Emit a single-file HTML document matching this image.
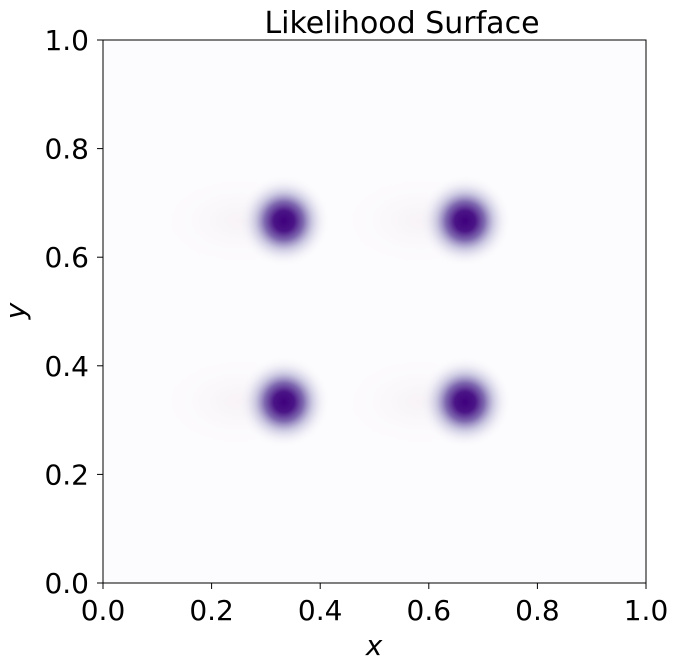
<!DOCTYPE html>
<html><head><meta charset="utf-8"><style>
body{margin:0;background:#fff;}
svg text{font-family:"DejaVu Sans","Liberation Sans",sans-serif;fill:#000;}
</style></head><body>
<svg id="chart" width="677" height="667">
<defs>
<radialGradient id="blob">
<stop offset="0" stop-color="#3f007d" stop-opacity="1"/>
<stop offset="0.22" stop-color="#4a1486" stop-opacity="1"/>
<stop offset="0.42" stop-color="#6a51a3" stop-opacity="0.85"/>
<stop offset="0.62" stop-color="#9e9ac8" stop-opacity="0.5"/>
<stop offset="0.82" stop-color="#dadaeb" stop-opacity="0.25"/>
<stop offset="1" stop-color="#fcfbfd" stop-opacity="0"/>
</radialGradient>
<radialGradient id="tail">
<stop offset="0" stop-color="#f2eaf0" stop-opacity="0.5"/>
<stop offset="1" stop-color="#fcfbfd" stop-opacity="0"/>
</radialGradient>
</defs>
<text x="402" y="33" font-size="30" text-anchor="middle">Likelihood Surface</text>
<rect x="103" y="40" width="543" height="543" fill="#fcfbfd"/>
<g id="marks"></g>
<rect x="103" y="40" width="543" height="543" fill="none" stroke="#000" stroke-width="1"/>
<g id="axes"></g>
<text x="374" y="655" font-size="28" font-style="italic" text-anchor="middle">x</text>
<text x="25" y="311" font-size="28" font-style="italic" text-anchor="middle" transform="rotate(-90 25 311)">y</text>
</svg>
<script>
const peakX=[1/3,1/3,2/3,2/3];
const peakY=[1/3,2/3,1/3,2/3];
const ticks=[0,0.2,0.4,0.6,0.8,1.0];
const tickLabels=["0.0","0.2","0.4","0.6","0.8","1.0"];
const L=103,T=40,W=543,H=543;
const sx=v=>L+v*W, sy=v=>T+H-v*H;
const NS="http://www.w3.org/2000/svg";
const marks=document.getElementById('marks');
for(let i=0;i<peakX.length;i++){
  const t=document.createElementNS(NS,'ellipse');
  t.setAttribute('cx',sx(peakX[i])-45);t.setAttribute('cy',sy(peakY[i]));
  t.setAttribute('rx',85);t.setAttribute('ry',50);t.setAttribute('fill','url(#tail)');
  
  
  marks.appendChild(t);
  const c=document.createElementNS(NS,'circle');
  c.setAttribute('cx',sx(peakX[i]));c.setAttribute('cy',sy(peakY[i]));
  c.setAttribute('r',46);c.setAttribute('fill','url(#blob)');
  
  
  marks.appendChild(c);
}
const axes=document.getElementById('axes');
ticks.forEach((v,i)=>{
  const x=sx(v),y=sy(v);
  let l=document.createElementNS(NS,'line');
  l.setAttribute('x1',x);l.setAttribute('x2',x);l.setAttribute('y1',583);l.setAttribute('y2',589);l.setAttribute('stroke','#000');
  
  
  axes.appendChild(l);
  let t=document.createElementNS(NS,'text');
  t.setAttribute('x',x);t.setAttribute('y',620);t.setAttribute('font-size','28');t.setAttribute('text-anchor','middle');
  t.textContent=tickLabels[i];
  
  
  axes.appendChild(t);
  l=document.createElementNS(NS,'line');
  l.setAttribute('x1',97);l.setAttribute('x2',103);l.setAttribute('y1',y);l.setAttribute('y2',y);l.setAttribute('stroke','#000');
  
  
  axes.appendChild(l);
  t=document.createElementNS(NS,'text');
  t.setAttribute('x',89);t.setAttribute('y',y+10);t.setAttribute('font-size','28');t.setAttribute('text-anchor','end');
  t.textContent=tickLabels[i];
  
  
  axes.appendChild(t);
});
</script>
</body></html>
